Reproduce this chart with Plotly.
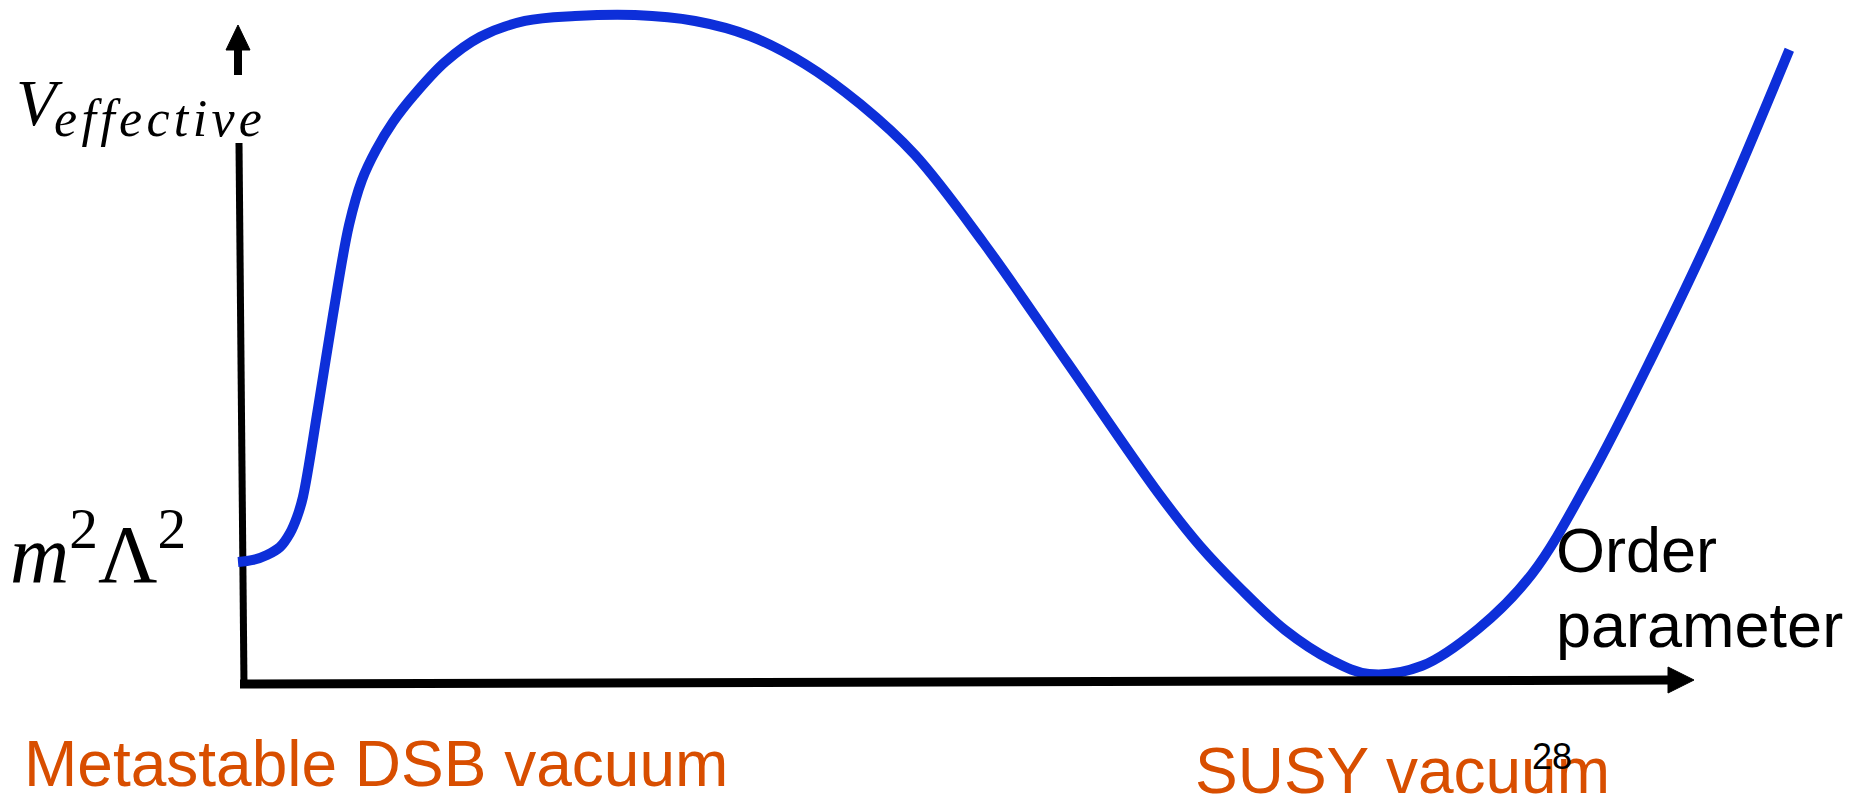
import plotly.graph_objects as go

W, H = 1858, 798

# ---- data: order parameter vs effective potential (arbitrary units) ----
order_param = [-0.38, 0.66, 1.62, 2.52, 3.21, 3.69, 4.1, 5.14, 6.17, 7.28, 8.17, 9.14,
               10.31, 11.76, 13.9, 16.31, 19.41, 22.86, 27.0, 31.14, 34.93, 38.72,
               42.52, 46.31, 51.04, 56.76, 63.14, 65.97, 68.72, 71.83, 75.0, 77.62,
               81.28, 85.14, 88.86, 92.86, 97.14, 101.48, 106.61]
v_effective = [18.21, 18.51, 19.25, 20.45, 22.54, 24.93, 27.91, 41.19, 55.07, 68.51,
               75.22, 79.7, 83.88, 87.91, 92.84, 96.57, 98.96, 99.7, 99.85, 98.96,
               96.72, 92.54, 86.57, 78.96, 65.84, 48.15, 28.36, 20.6, 14.33, 8.06,
               3.58, 1.49, 2.72, 8.21, 16.42, 30.75, 48.81, 68.51, 94.66]

y_axis_label = "V"
y_axis_sub = "effective"
level_label = "<i>m</i><sup>2</sup>Λ<sup>2</sup>"
x_axis_label = ["Order", "parameter"]
vacuum_labels = ["Metastable DSB vacuum", "SUSY vacuum"]
page_number = "28"

# ---- layout geometry (pixels) ----
X0_PX, PX_PER_X = 243.5, 14.5
Y0_PX, PX_PER_Y = 684.0, 6.7

x_range = [-X0_PX / PX_PER_X, (W - X0_PX) / PX_PER_X]
y_range = [(Y0_PX - H) / PX_PER_Y, Y0_PX / PX_PER_Y]


def px(x):
    return x / W


def py(y):
    return 1 - y / H


BLUE = "#0d2fd9"
ORANGE = "#d84e00"
BLACK = "#000000"

fig = go.Figure()
fig.add_trace(go.Scatter(
    x=order_param, y=v_effective, mode="lines",
    line=dict(color=BLUE, width=10, shape="spline", smoothing=1.0),
    hoverinfo="skip", showlegend=False,
))

shapes = []
# vertical axis (slightly tilted)
shapes.append(dict(type="line", xref="paper", yref="paper", layer="below",
                   x0=px(239), y0=py(143), x1=px(244), y1=py(687),
                   line=dict(color=BLACK, width=7)))
# upper arrow shaft + head
shapes.append(dict(type="line", xref="paper", yref="paper",
                   x0=px(238), y0=py(48), x1=px(238), y1=py(75),
                   line=dict(color=BLACK, width=8)))
shapes.append(dict(type="path", xref="paper", yref="paper",
                   path=f"M {px(226)},{py(50)} L {px(250)},{py(50)} L {px(238)},{py(25)} Z",
                   fillcolor=BLACK, line=dict(color=BLACK, width=1)))
# horizontal axis
shapes.append(dict(type="line", xref="paper", yref="paper",
                   x0=px(240), y0=py(684), x1=px(1670), y1=py(680),
                   line=dict(color=BLACK, width=9)))
shapes.append(dict(type="path", xref="paper", yref="paper",
                   path=f"M {px(1668)},{py(667)} L {px(1694)},{py(680)} L {px(1668)},{py(693)} Z",
                   fillcolor=BLACK, line=dict(color=BLACK, width=1)))

SERIF = "Liberation Serif"
SANS = "Liberation Sans, Arial, sans-serif"

annotations = [
    dict(text=f"<i>{y_axis_label}</i>", x=px(14), y=py(102), xanchor="left", yanchor="middle",
         font=dict(family=SERIF, size=66, color=BLACK)),
    dict(text="<i>" + "\u200a".join(y_axis_sub) + "</i>", x=px(52), y=py(118), xanchor="left",
         yanchor="middle", font=dict(family=SERIF, size=52, color=BLACK)),
    dict(text=level_label, x=px(8), y=py(548), xanchor="left", yanchor="middle",
         font=dict(family=SERIF, size=82, color=BLACK)),
    dict(text=x_axis_label[0], x=px(1554), y=py(550), xanchor="left", yanchor="middle",
         font=dict(family=SANS, size=63, color=BLACK)),
    dict(text=x_axis_label[1], x=px(1554), y=py(625), xanchor="left", yanchor="middle",
         font=dict(family=SANS, size=63, color=BLACK)),
    dict(text=vacuum_labels[0], x=px(22), y=py(764), xanchor="left", yanchor="middle",
         font=dict(family=SANS, size=64, color=ORANGE)),
    dict(text=vacuum_labels[1], x=px(1193), y=py(771), xanchor="left", yanchor="middle",
         font=dict(family=SANS, size=64, color=ORANGE)),
    dict(text=page_number, x=px(1530), y=py(756), xanchor="left", yanchor="middle",
         font=dict(family=SANS, size=36, color=BLACK)),
]
for a in annotations:
    a.update(xref="paper", yref="paper", showarrow=False)

fig.update_layout(
    width=W, height=H,
    margin=dict(l=0, r=0, t=0, b=0),
    paper_bgcolor="white", plot_bgcolor="white",
    xaxis=dict(range=x_range, visible=False, fixedrange=True),
    yaxis=dict(range=y_range, visible=False, fixedrange=True),
    shapes=shapes, annotations=annotations,
    showlegend=False,
)

fig.write_html(
    "out.html",
    config={"displayModeBar": False, "staticPlot": True},
    post_script="document.body.style.margin='0';document.body.style.overflow='hidden';",
)
